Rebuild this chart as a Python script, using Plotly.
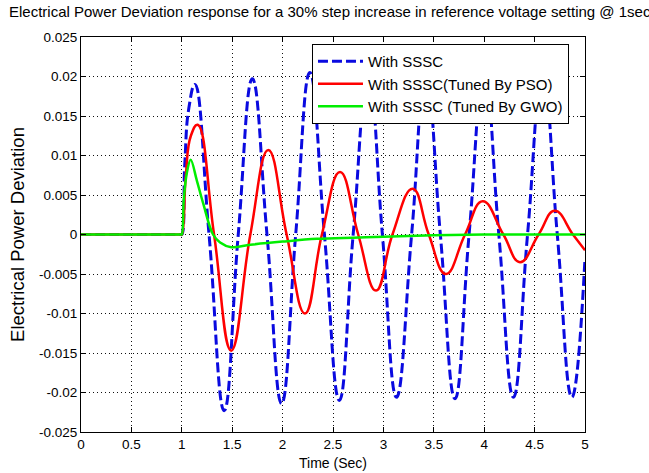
import plotly.graph_objects as go

# ---- data ----
time_sssc = [0, 0.99, 1.0, 1.03, 1.07, 1.13, 1.27, 1.42, 1.56, 1.70, 1.845, 1.99, 2.13, 2.27,
             2.415, 2.563, 2.70, 2.85, 2.99, 3.13, 3.28, 3.42, 3.565, 3.71, 3.85, 4.0,
             4.145, 4.29, 4.43, 4.58, 4.725, 4.87, 5.0]
power_sssc = [0, 0, 0, 0.009, 0.016, 0.019, 0, -0.0223, 0, 0.0197, 0, -0.0214, 0, 0.0205,
              0, -0.0210, 0, 0.0206, 0, -0.0206, 0, 0.0206, 0, -0.0208, 0, 0.0206,
              0, -0.0206, 0, 0.0206, 0, -0.0206, -0.003]

time_pso = [0, 0.99, 1.0, 1.04, 1.09, 1.157, 1.32, 1.49, 1.68, 1.858, 2.04, 2.222, 2.39,
            2.57, 2.75, 2.927, 3.09, 3.29, 3.45, 3.62, 3.81, 3.985, 4.19, 4.355, 4.54,
            4.70, 4.88, 5.0]
power_pso = [0, 0, 0, 0.0075, 0.0125, 0.0139, 0, -0.0147, 0, 0.0107, 0, -0.0100, 0,
             0.0079, 0, -0.0071, 0, 0.0058, 0, -0.0050, 0, 0.0042, 0, -0.0035, 0,
             0.0030, 0, -0.0020]

time_gwo = [0, 0.99, 1.0, 1.02, 1.05, 1.088, 1.15, 1.213, 1.31, 1.38, 1.49, 1.68, 2.0,
            2.34, 2.7, 3.0, 3.5, 4.0, 4.5, 5.0]
power_gwo = [0, 0, 0, 0.0045, 0.0078, 0.00945, 0.0068, 0.0039, 0, -0.0010, -0.0016,
             -0.0013, -0.0009, -0.00055, -0.0004, -0.0003, -0.0001, 0, 0, 0]

x_ticks = [0, 0.5, 1, 1.5, 2, 2.5, 3, 3.5, 4, 4.5, 5]
x_tick_labels = ["0", "0.5", "1", "1.5", "2", "2.5", "3", "3.5", "4", "4.5", "5"]
y_ticks = [0.025, 0.02, 0.015, 0.01, 0.005, 0, -0.005, -0.01, -0.015, -0.02, -0.025]
y_tick_labels = ["0.025", "0.02", "0.015", "0.01", "0.005", "0", "-0.005", "-0.01",
                 "-0.015", "-0.02", "-0.025"]

series_names = ["With SSSC", "With SSSC(Tuned By PSO)", "With SSSC (Tuned By GWO)"]

FONT = "Liberation Sans, Arial, sans-serif"

fig = go.Figure()
fig.add_trace(go.Scatter(x=time_sssc, y=power_sssc, mode="lines", name=series_names[0],
                         line=dict(color="#0a0ae0", width=3, dash="10px,4px",
                                   shape="spline", smoothing=1.3)))
fig.add_trace(go.Scatter(x=time_pso, y=power_pso, mode="lines", name=series_names[1],
                         line=dict(color="#ff0000", width=2.5, shape="spline", smoothing=1.3)))
fig.add_trace(go.Scatter(x=time_gwo, y=power_gwo, mode="lines", name=series_names[2],
                         line=dict(color="#00ee00", width=2.5, shape="spline", smoothing=1.0)))

axis_common = dict(
    showgrid=True, gridcolor="#111111", griddash="1px,3px", gridwidth=1,
    ticks="inside", ticklen=5, tickcolor="black", tickwidth=1,
    showline=True, linecolor="black", linewidth=1, mirror="allticks",
    zeroline=False, tickfont=dict(family=FONT, size=13.5, color="black"),
)

fig.update_layout(
    width=649, height=473,
    margin=dict(l=81, r=64, t=37, b=41, autoexpand=False),
    paper_bgcolor="white", plot_bgcolor="white",
    font=dict(family=FONT, color="black"),
    title=dict(text="Electrical Power Deviation response for a 30% step increase in reference voltage setting @ 1sec",
               font=dict(family=FONT, size=15, color="black"),
               x=9 / 649, xref="container", xanchor="left",
               y=1 - 12 / 473, yref="container", yanchor="middle"),
    xaxis=dict(range=[0, 5], tickmode="array", tickvals=x_ticks, ticktext=x_tick_labels,
               title=dict(text="Time (Sec)", font=dict(family=FONT, size=14), standoff=6),
               **axis_common),
    yaxis=dict(range=[-0.025, 0.025], tickmode="array", tickvals=y_ticks, ticktext=y_tick_labels,
               title=dict(text="Electrical Power Deviation", font=dict(family=FONT, size=18.5), standoff=9),
               **axis_common),
    legend=dict(x=0.4583, y=0.982, xanchor="left", yanchor="top",
                bgcolor="white", bordercolor="black", borderwidth=1,
                font=dict(family=FONT, size=15, color="black"), itemwidth=45,
                tracegroupgap=0),
    showlegend=True,
)

fig.write_html("out.html", config={"displayModeBar": False},
               post_script="document.body.style.margin='0px';")
